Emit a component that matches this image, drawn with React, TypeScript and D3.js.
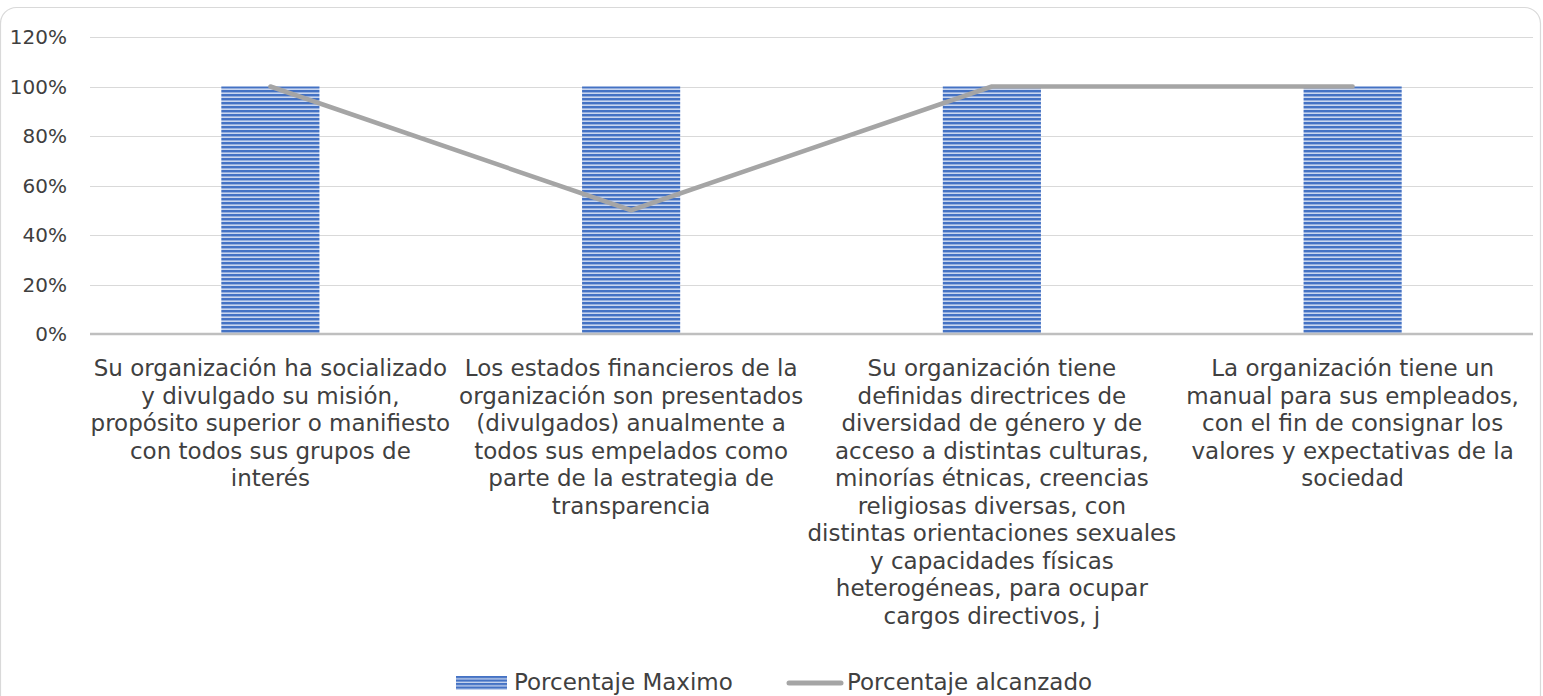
import React from "react";
import * as d3 from "d3";

const categories: string[][] = [
  ["Su organización ha socializado", "y divulgado su misión,", "propósito superior o manifiesto", "con todos sus grupos de", "interés"],
  ["Los estados financieros de la", "organización son presentados", "(divulgados) anualmente a", "todos sus empelados como", "parte de la estrategia de", "transparencia"],
  ["Su organización tiene", "definidas directrices de", "diversidad de género y de", "acceso a distintas culturas,", "minorías étnicas, creencias", "religiosas diversas, con", "distintas orientaciones sexuales", "y capacidades físicas", "heterogéneas, para ocupar", "cargos directivos, j"],
  ["La organización tiene un", "manual para sus empleados,", "con el fin de consignar los", "valores y expectativas de la", "sociedad"],
];
const maximo: number[] = [1, 1, 1, 1];
const alcanzado: number[] = [1, 0.5, 1, 1];
const yTicks: number[] = [0, 0.2, 0.4, 0.6, 0.8, 1, 1.2];
const seriesNames: string[] = ["Porcentaje Maximo", "Porcentaje alcanzado"];

const W = 1543;
const H = 696;
const FONT = "'DejaVu Sans', sans-serif";
const TEXT = "#404040";

export default function App() {
  const left = 90;
  const right = 1533;
  const top = 37;
  const bottom = 334;
  const idx = categories.map((_, i) => String(i));
  const p = 0.728;
  const x = d3.scaleBand<string>().domain(idx).range([left, right]).paddingInner(p).paddingOuter(p / 2);
  const y = d3.scaleLinear().domain([0, 1.2]).range([bottom, top]);
  const cx = (i: number) => (x(String(i)) as number) + x.bandwidth() / 2;
  const line = d3
    .line<number>()
    .x((_, i) => cx(i))
    .y((d) => y(d));
  const fmt = d3.format(".0%");

  return (
    <svg
      width={W}
      height={H}
      style={{ position: "absolute", left: 0, top: 0, background: "#fff" }}
      fontFamily={FONT}
    >
      <defs>
        <pattern id="stripes" patternUnits="userSpaceOnUse" width={8} height={4} y={86}>
          <rect x={0} y={0} width={8} height={4} fill="#C9D6EF" />
          <rect x={0} y={0} width={8} height={2.4} fill="#4472C4" />
        </pattern>
        <pattern id="stripesLeg" patternUnits="userSpaceOnUse" width={8} height={3.5} y={676}>
          <rect x={0} y={0} width={8} height={3.5} fill="#C9D6EF" />
          <rect x={0} y={0} width={8} height={2.2} fill="#4472C4" />
        </pattern>
      </defs>
      <rect x={0.5} y={7.5} width={1540} height={720} rx={16} fill="#fff" stroke="#D9D9D9" strokeWidth={1.2} />

      {yTicks.map((t) => (
        <g key={t}>
          {t > 0 && (
            <line x1={left} x2={right} y1={Math.round(y(t)) + 0.5} y2={Math.round(y(t)) + 0.5} stroke="#D9D9D9" strokeWidth={1} />
          )}
          <text x={67} y={y(t)} dy="0.36em" textAnchor="end" fontSize={20} fill={TEXT}>
            {fmt(t)}
          </text>
        </g>
      ))}

      {maximo.map((v, i) => (
        <rect
          key={i}
          x={x(String(i))}
          width={x.bandwidth()}
          y={y(v)}
          height={y(0) - y(v)}
          fill="url(#stripes)"
        />
      ))}

      <line x1={left} x2={right} y1={y(0)} y2={y(0)} stroke="#BFBFBF" strokeWidth={2.5} />

      <path d={line(alcanzado) || ""} fill="none" stroke="#A5A5A5" strokeWidth={4.5} strokeLinecap="round" strokeLinejoin="round" />

      {categories.map((lines, i) => (
        <text key={i} x={cx(i)} textAnchor="middle" fontSize={23} fill={TEXT}>
          {lines.map((l, j) => (
            <tspan key={j} x={cx(i)} y={376 + j * 27.5}>
              {l}
            </tspan>
          ))}
        </text>
      ))}

      <g>
        <rect x={456} y={676} width={51} height={14} fill="url(#stripesLeg)" />
        <text x={514} y={690} fontSize={23} fill={TEXT}>
          {seriesNames[0]}
        </text>
        <line x1={789} x2={841} y1={683} y2={683} stroke="#A5A5A5" strokeWidth={5} strokeLinecap="round" />
        <text x={847} y={690} fontSize={23} fill={TEXT}>
          {seriesNames[1]}
        </text>
      </g>
    </svg>
  );
}
